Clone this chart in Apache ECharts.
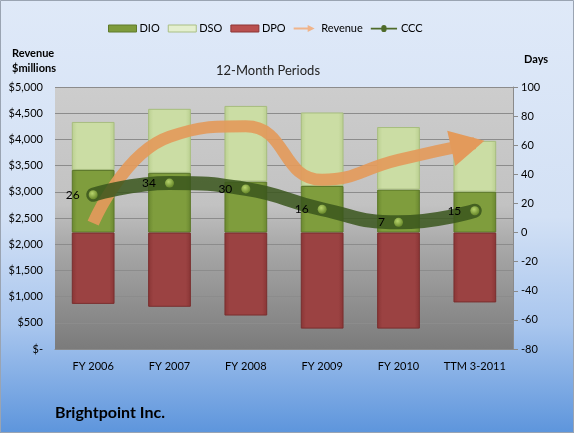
<!DOCTYPE html>
<html>
<head>
<meta charset="utf-8">
<script src="https://cdn.jsdelivr.net/npm/echarts@6/dist/echarts.min.js"></script>
<style>html,body{margin:0;padding:0;}#c{width:574px;height:433px;}</style>
</head>
<body>
<div id="c"></div>
<script>
const categories = ['FY 2006', 'FY 2007', 'FY 2008', 'FY 2009', 'FY 2010', 'TTM 3-2011'];
const dio = [43, 41, 35, 32, 29.5, 28];
const dso = [33, 44, 52, 50.5, 43, 35];
const dpo = [-49, -51, -57, -66, -66, -48];
const revenue = [2400, 4050, 4250, 3230, 3610, 3930];
const ccc = [26, 34, 30, 16, 7, 15];
const revenueTicks = { min: 0, max: 5000, interval: 500 };
const dayTicks = { min: -80, max: 100, interval: 20 };

const FONT = 'Lato';
const chart = echarts.init(document.getElementById('c'), null, { renderer: 'canvas' });

function hgrad(edge, mid) {
  return new echarts.graphic.LinearGradient(0, 0, 1, 0, [
    { offset: 0, color: edge }, { offset: 0.12, color: mid },
    { offset: 0.88, color: mid }, { offset: 1, color: edge }
  ]);
}

const revData = revenue.map((v, i) => {
  if (i === revenue.length - 1) {
    return { value: v, symbol: 'triangle', symbolSize: [36, 34], symbolRotate: -77, symbolOffset: [-7, 1.5],
      itemStyle: { color: '#E39A5B', opacity: 1 } };
  }
  return v;
});

chart.setOption({
  backgroundColor: new echarts.graphic.LinearGradient(0, 0, 0, 1, [
    { offset: 0, color: '#dfe9f8' }, { offset: 0.5, color: '#d3e1f5' },
    { offset: 0.75, color: '#a9c6ee' }, { offset: 1, color: '#5d95dc' }
  ]),
  textStyle: { fontFamily: FONT },
  animation: false,
  title: {
    text: '12-Month Periods', left: 263, top: 59, textAlign: 'center',
    textStyle: { fontFamily: FONT, fontSize: 13, fontWeight: 'normal', color: '#222' }
  },
  legend: {
    left: 103, top: 18, itemGap: 8, itemWidth: 28, itemHeight: 7,
    textStyle: { fontFamily: FONT, fontSize: 11, color: '#000', padding: [0, 0, 0, -2] },
    data: [
      { name: 'DIO', icon: 'rect', itemStyle: { color: '#7e9b3c', borderColor: '#5f7a2a', borderWidth: 1 } },
      { name: 'DSO', icon: 'rect', itemStyle: { color: '#e4efcf', borderColor: '#a9bf84', borderWidth: 1 } },
      { name: 'DPO', icon: 'rect', itemStyle: { color: '#b9504f', borderColor: '#8d3535', borderWidth: 1 } },
      { name: 'Revenue', icon: 'path://M0,3.5 L20,3.5 L20,0 L30,5 L20,10 L20,6.5 L0,6.5 Z', itemStyle: { color: '#f0b48a' } },
      { name: 'CCC', icon: 'path://M0,4 L12,4 A3,3 0 1 1 18,4 L30,4 L30,6 L18,6 A3,3 0 1 1 12,6 L0,6 Z', itemStyle: { color: '#4f6b2a' } }
    ]
  },
  grid: {
    left: 55, right: 61, top: 87, bottom: 84, show: true, borderWidth: 0,
    backgroundColor: new echarts.graphic.LinearGradient(0, 0, 0, 1, [
      { offset: 0, color: '#cdcdcd' }, { offset: 0.45, color: '#c2c2c2' },
      { offset: 0.6, color: '#a9a9a9' }, { offset: 1, color: '#7b7b7b' }
    ])
  },
  xAxis: {
    type: 'category', data: categories, boundaryGap: true,
    axisLine: { show: true, lineStyle: { color: '#8a8a8a' } },
    axisTick: { show: false },
    axisLabel: { fontFamily: FONT, fontSize: 11, color: '#000', margin: 12, interval: 0 }
  },
  yAxis: [
    {
      type: 'value', min: revenueTicks.min, max: revenueTicks.max, interval: revenueTicks.interval,
      axisLine: { show: false }, axisTick: { show: false },
      splitLine: { show: true, lineStyle: { color: '#8c8c8c', width: 1 } },
      axisLabel: {
        fontFamily: FONT, fontSize: 11, color: '#000', margin: 12,
        formatter: v => v === 0 ? '$-' : '$' + v.toLocaleString('en-US')
      }
    },
    {
      type: 'value', min: dayTicks.min, max: dayTicks.max, interval: dayTicks.interval,
      position: 'right',
      axisLine: { show: true, lineStyle: { color: '#8a8a8a' } },
      axisTick: { show: true, length: 5, lineStyle: { color: '#8a8a8a' } },
      splitLine: { show: false },
      axisLabel: { fontFamily: FONT, fontSize: 11, color: '#000', margin: 8 }
    }
  ],
  graphic: [
    { type: 'text', left: 12, top: 46, style: { text: 'Revenue\n$millions', font: 'bold 11px ' + FONT, fill: '#000', lineHeight: 15 } },
    { type: 'text', left: 524, top: 54, style: { text: 'Days', font: 'bold 11px ' + FONT, fill: '#000' } },
    { type: 'text', left: 55, top: 405, style: { text: 'Brightpoint Inc.', font: 'bold 16px ' + FONT, fill: '#000' } },
    { type: 'rect', shape: { x: 0.5, y: 0.5, width: 573, height: 432 }, style: { fill: 'none', stroke: '#9aa4b2', lineWidth: 1 }, silent: true }
  ],
  series: [
    {
      name: 'DIO', type: 'bar', stack: 'days', yAxisIndex: 1, data: dio, barWidth: '56%',
      itemStyle: { color: hgrad('#6a872f', '#7f9d3d'), borderColor: '#5c7829', borderWidth: 1 }
    },
    {
      name: 'DSO', type: 'bar', stack: 'days', yAxisIndex: 1, data: dso, barWidth: '56%',
      itemStyle: { color: hgrad('#bacf90', '#cbdda4'), borderColor: '#a7bd7e', borderWidth: 1 }
    },
    {
      name: 'DPO', type: 'bar', stack: 'days', yAxisIndex: 1, data: dpo, barWidth: '56%',
      itemStyle: { color: hgrad('#893535', '#9b4242'), borderColor: '#7a2e2e', borderWidth: 1 }
    },
    {
      name: 'Revenue', type: 'line', yAxisIndex: 0, data: revData, smooth: 0.5,
      symbol: 'none', showSymbol: true,
      lineStyle: { color: '#E39A5B', width: 12, cap: 'butt', opacity: 0.92 },
      itemStyle: { color: '#E39A5B' }, z: 3
    },
    {
      name: 'CCC', type: 'line', yAxisIndex: 1, data: ccc, smooth: 0.5,
      symbol: 'circle', symbolSize: 9, showSymbol: true,
      lineStyle: { color: 'rgba(58,86,28,0.85)', width: 14, cap: 'round' },
      itemStyle: { color: new echarts.graphic.RadialGradient(0.4, 0.35, 0.6, [
        { offset: 0, color: '#b7d46c' }, { offset: 1, color: '#6f8f30' }
      ]) },
      label: { show: true, position: 'left', distance: 9, fontFamily: FONT, fontSize: 12, color: '#000' },
      z: 4
    }
  ]
});
</script>
</body>
</html>
